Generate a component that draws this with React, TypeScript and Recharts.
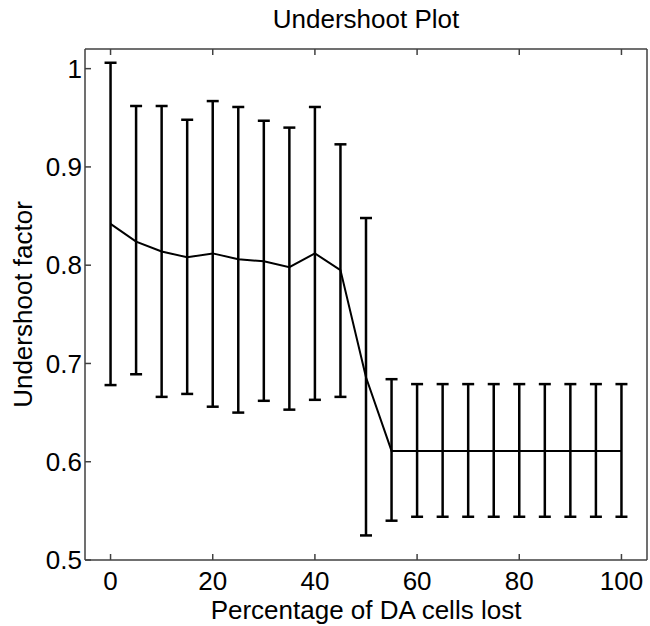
import React from 'react';
import { LineChart, Line, XAxis, YAxis, ErrorBar, Label } from 'recharts';

const pct = [0, 5, 10, 15, 20, 25, 30, 35, 40, 45, 50, 55, 60, 65, 70, 75, 80, 85, 90, 95, 100];
const meanVals = [0.842, 0.824, 0.814, 0.808, 0.812, 0.806, 0.804, 0.798, 0.812, 0.795, 0.686, 0.611,
  0.611, 0.611, 0.611, 0.611, 0.611, 0.611, 0.611, 0.611, 0.611];
const upperVals = [1.006, 0.962, 0.962, 0.948, 0.967, 0.961, 0.947, 0.94, 0.961, 0.923, 0.848, 0.684,
  0.679, 0.679, 0.679, 0.679, 0.679, 0.679, 0.679, 0.679, 0.679];
const lowerVals = [0.678, 0.689, 0.666, 0.669, 0.656, 0.65, 0.662, 0.653, 0.663, 0.666, 0.525, 0.54,
  0.544, 0.544, 0.544, 0.544, 0.544, 0.544, 0.544, 0.544, 0.544];
const xTicks = [0, 20, 40, 60, 80, 100];
const yTicks = [0.5, 0.6, 0.7, 0.8, 0.9, 1];

const data = pct.map((p, i) => ({
  pct: p,
  mean: meanVals[i],
  err: [meanVals[i] - lowerVals[i], upperVals[i] - meanVals[i]],
}));

const font = "'Liberation Sans', Arial, sans-serif";
const axisColor = '#404040';
const tickStyle = { fontSize: 26, fill: '#000', fontFamily: font };
const blank = () => '';

export default function App() {
  return (
    <div style={{ position: 'absolute', left: 0, top: 0, width: 650, height: 626, background: '#fff' }}>
      <div
        style={{
          position: 'absolute', left: 85, top: 6, width: 562, textAlign: 'center',
          fontFamily: font, fontSize: 26, lineHeight: '26px', color: '#000', zIndex: 1,
        }}
      >
        Undershoot Plot
      </div>
      <LineChart width={650} height={626} data={data} margin={{ top: 48, right: 2, bottom: 0, left: 0 }}>
        <XAxis
          xAxisId="bottom" dataKey="pct" type="number" domain={[-5, 105]} ticks={xTicks}
          height={66} tickSize={-6} tickMargin={18} tick={tickStyle}
          stroke={axisColor} strokeWidth={1.5}
        >
          <Label value="Percentage of DA cells lost" position="insideBottom" offset={7}
            style={{ fontSize: 26, fill: '#000', fontFamily: font }} />
        </XAxis>
        <XAxis
          xAxisId="top" orientation="top" dataKey="pct" type="number" domain={[-5, 105]} ticks={xTicks}
          height={1} tickSize={-6} tickFormatter={blank} stroke={axisColor} strokeWidth={1.5}
        />
        <YAxis
          yAxisId="left" type="number" domain={[0.5, 1.02]} ticks={yTicks} width={85}
          tickSize={-6} tickMargin={9} tick={tickStyle} stroke={axisColor} strokeWidth={1.5}
        >
          <Label value="Undershoot factor" angle={-90} position="insideLeft" offset={23}
            style={{ fontSize: 26, fill: '#000', fontFamily: font, textAnchor: 'middle' }} />
        </YAxis>
        <YAxis
          yAxisId="right" orientation="right" type="number" domain={[0.5, 1.02]} ticks={yTicks} width={1}
          tickSize={-6} tickFormatter={blank} stroke={axisColor} strokeWidth={1.5}
        />
        <Line
          xAxisId="bottom" yAxisId="left" type="linear" dataKey="mean" stroke="#000" strokeWidth={2}
          dot={false} isAnimationActive={false}
        >
          <ErrorBar dataKey="err" direction="y" width={6} stroke="#000" strokeWidth={2.5} />
        </Line>
      </LineChart>
    </div>
  );
}
